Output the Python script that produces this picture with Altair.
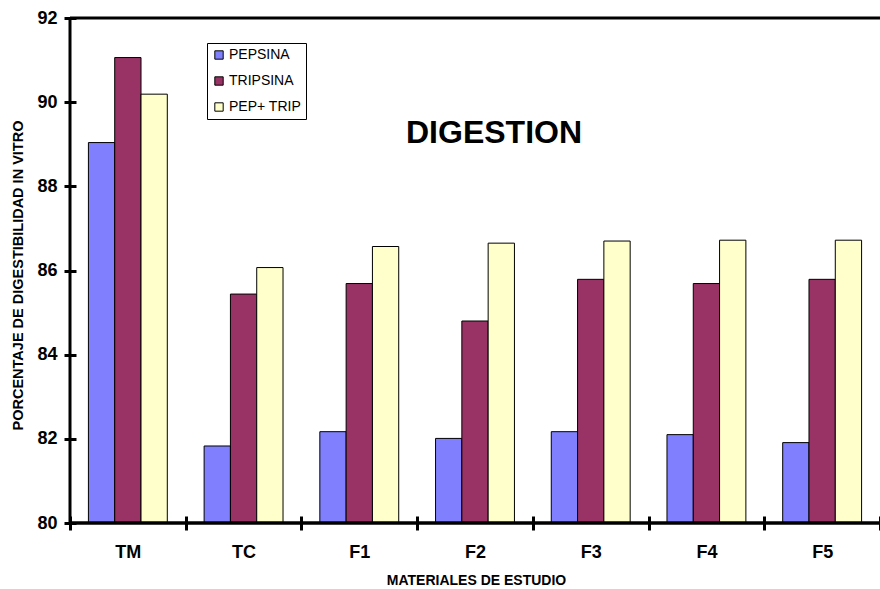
import altair as alt
import pandas as pd

categories = ["TM", "TC", "F1", "F2", "F3", "F4", "F5"]
series = ["PEPSINA", "TRIPSINA", "PEP+ TRIP"]
pepsina = [89.04, 81.83, 82.17, 82.01, 82.17, 82.10, 81.91]
tripsina = [91.06, 85.44, 85.69, 84.80, 85.79, 85.69, 85.79]
pep_trip = [90.19, 86.07, 86.57, 86.65, 86.70, 86.72, 86.72]
colors = ["#8080FF", "#993366", "#FFFFCC"]
y_ticks = [80, 82, 84, 86, 88, 90, 92]

rows = []
for name, vals in zip(series, [pepsina, tripsina, pep_trip]):
    for c, v in zip(categories, vals):
        rows.append({"material": c, "serie": name, "valor": v})
df = pd.DataFrame(rows)

FONT = "Liberation Sans"
W, H = 810, 505

x_enc = alt.X(
    "material:N",
    sort=categories,
    scale=alt.Scale(paddingInner=0, paddingOuter=0),
    axis=alt.Axis(
        title="MATERIALES DE ESTUDIO",
        labelAngle=0,
        labelFont=FONT, labelFontSize=18, labelFontWeight="bold", labelColor="black",
        labelPadding=13,
        domain=False,
        ticks=True, tickBand="extent", tickSize=14, tickWidth=3, tickColor="black",
        offset=-7,
        titleFont=FONT, titleFontSize=14, titleFontWeight="bold", titleColor="black",
        titleX=406, titleY=68, titleAnchor="middle", titleAlign="center",
        titleBaseline="alphabetic",
    ),
)

y_scale = alt.Scale(domain=[80, 92], nice=False, zero=False)

bars = alt.Chart(df).mark_bar(stroke="black", strokeWidth=1).encode(
    x=x_enc,
    xOffset=alt.XOffset("serie:N", sort=series,
                        scale=alt.Scale(paddingInner=0, paddingOuter=0.7)),
    y=alt.Y(
        "valor:Q",
        scale=y_scale,
        axis=alt.Axis(
            values=y_ticks,
            title="PORCENTAJE DE DIGESTIBILIDAD IN VITRO",
            grid=False,
            domain=False,
            offset=-6,
            tickSize=12, tickWidth=3, tickColor="black",
            labelFont=FONT, labelFontSize=18, labelFontWeight="bold", labelColor="black",
            labelPadding=7,
            titleFont=FONT, titleFontSize=14.5, titleFontWeight="bold", titleColor="black",
            titleAngle=-90, titleX=-58, titleY=257, titleAlign="center",
            titleBaseline="middle",
        ),
    ),
    y2=alt.datum(80),
    color=alt.Color(
        "serie:N",
        sort=series,
        scale=alt.Scale(domain=series, range=colors),
        legend=alt.Legend(
            title=None,
            orient="none", legendX=137, legendY=25,
            fillColor="white", strokeColor="black",
            padding=5,
            symbolType="square", symbolSize=70,
            symbolStrokeColor="black", symbolStrokeWidth=1,
            labelFont=FONT, labelFontSize=14, labelColor="black",
            labelOffset=3, rowPadding=12,
        ),
    ),
)

top_line = alt.Chart(pd.DataFrame({"v": [92]})).mark_rule(
    color="black", strokeWidth=3
).encode(y=alt.Y("v:Q", scale=y_scale))

base_line = alt.Chart(pd.DataFrame({"v": [80]})).mark_rule(
    color="black", strokeWidth=3.5
).encode(y=alt.Y("v:Q", scale=y_scale))

left_line = alt.Chart(pd.DataFrame({"v": [0]})).mark_rule(
    color="black", strokeWidth=3
).encode(x=alt.value(0), y=alt.value(0), y2=alt.value(H))

title_txt = alt.Chart(pd.DataFrame({"t": ["DIGESTION"]})).mark_text(
    font=FONT, fontSize=32, fontWeight="bold", color="black",
    align="center", baseline="alphabetic",
).encode(text="t:N", x=alt.value(424), y=alt.value(125))

chart = alt.layer(bars, top_line, base_line, left_line, title_txt).properties(
    width=W, height=H,
    autosize=alt.AutoSizeParams(type="none"),
    padding={"left": 70, "top": 18, "right": 0, "bottom": 66},
).configure_view(stroke=None).configure(background="white")

chart.save("out.html", embed_options={"renderer": "svg", "actions": False})
